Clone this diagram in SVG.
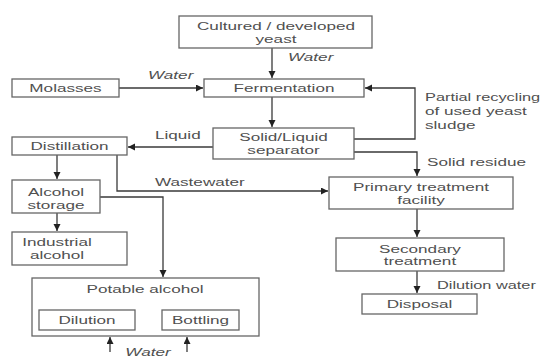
<svg xmlns="http://www.w3.org/2000/svg" width="542" height="358" viewBox="0 0 542 358">
<defs>
<marker id="ah" markerUnits="userSpaceOnUse" markerWidth="8" markerHeight="8" refX="7" refY="3.5" orient="auto">
<path d="M0,0 L7,3.5 L0,7 z" fill="#222"/>
</marker>
<style>
.box{fill:#fff;stroke:#666;stroke-width:1.3}
.t{font-family:"Liberation Sans",Arial,sans-serif;font-size:11.5px;fill:#505050}
.m{text-anchor:middle}
.i{font-style:italic}
.c{fill:none;stroke:#3a3a3a;stroke-width:1.3}
</style>
</defs>
<rect width="542" height="358" fill="#fff"/>
<g id="connectors">
<path class="c" d="M272,48 V78" marker-end="url(#ah)"/>
<path class="c" d="M119,88 H203" marker-end="url(#ah)"/>
<path class="c" d="M272,97 V127" marker-end="url(#ah)"/>
<path class="c" d="M354,139 H415 V88 H365" marker-end="url(#ah)"/>
<path class="c" d="M354,152 H417 V176" marker-end="url(#ah)"/>
<path class="c" d="M213,147 H128" marker-end="url(#ah)"/>
<path class="c" d="M57,155 V179" marker-end="url(#ah)"/>
<path class="c" d="M117,155 V191 H328" marker-end="url(#ah)"/>
<path class="c" d="M57,213 V231" marker-end="url(#ah)"/>
<path class="c" d="M100,197 H163 V277" marker-end="url(#ah)"/>
<path class="c" d="M110,352 V337" marker-end="url(#ah)"/>
<path class="c" d="M187,352 V337" marker-end="url(#ah)"/>
<path class="c" d="M417,209 V237" marker-end="url(#ah)"/>
<path class="c" d="M417,271 V293" marker-end="url(#ah)"/>
<text class="t i" transform="translate(288,61) scale(1.49,1)">Water</text>
<text class="t i" transform="translate(148,79) scale(1.49,1)">Water</text>
<text class="t" transform="translate(155,139) scale(1.49,1)">Liquid</text>
<text class="t" transform="translate(425,101) scale(1.42,1)">Partial recycling</text>
<text class="t" transform="translate(425,115) scale(1.49,1)">of used yeast</text>
<text class="t" transform="translate(425,129) scale(1.49,1)">sludge</text>
<text class="t" transform="translate(427,166) scale(1.49,1)">Solid residue</text>
<text class="t" transform="translate(155,186) scale(1.49,1)">Wastewater</text>
<text class="t" transform="translate(437,289) scale(1.42,1)">Dilution water</text>
<text class="t i m" transform="translate(148,356) scale(1.49,1)">Water</text>
</g>
<g id="yeast">
<rect class="box" x="179" y="16" width="193" height="32"/>
<text class="t m" transform="translate(276,30) scale(1.49,1)">Cultured / developed</text>
<text class="t m" transform="translate(276,43) scale(1.49,1)">yeast</text>
</g>
<g id="molasses">
<rect class="box" x="12" y="79" width="107" height="18"/>
<text class="t m" transform="translate(65.5,92) scale(1.49,1)">Molasses</text>
</g>
<g id="fermentation">
<rect class="box" x="204" y="79" width="160" height="18"/>
<text class="t m" transform="translate(284,92) scale(1.49,1)">Fermentation</text>
</g>
<g id="separator">
<rect class="box" x="213" y="128" width="141" height="31"/>
<text class="t m" transform="translate(283.5,141) scale(1.49,1)">Solid/Liquid</text>
<text class="t m" transform="translate(283.5,154) scale(1.49,1)">separator</text>
</g>
<g id="distillation">
<rect class="box" x="12" y="137" width="115" height="18"/>
<text class="t m" transform="translate(69.5,150) scale(1.49,1)">Distillation</text>
</g>
<g id="storage">
<rect class="box" x="12" y="180" width="88" height="33"/>
<text class="t m" transform="translate(56,196) scale(1.49,1)">Alcohol</text>
<text class="t m" transform="translate(56,209) scale(1.49,1)">storage</text>
</g>
<g id="industrial">
<rect class="box" x="12" y="232" width="115" height="33"/>
<text class="t m" transform="translate(57,246) scale(1.49,1)">Industrial</text>
<text class="t m" transform="translate(57,259) scale(1.49,1)">alcohol</text>
</g>
<g id="potable">
<rect class="box" x="32" y="278" width="227" height="58"/>
<text class="t m" transform="translate(145,293) scale(1.49,1)">Potable alcohol</text>
</g>
<g id="dilution">
<rect class="box" x="39" y="310" width="96" height="20"/>
<text class="t m" transform="translate(87,324) scale(1.49,1)">Dilution</text>
</g>
<g id="bottling">
<rect class="box" x="162" y="310" width="77" height="20"/>
<text class="t m" transform="translate(200.5,324) scale(1.49,1)">Bottling</text>
</g>
<g id="primary">
<rect class="box" x="329" y="177" width="184" height="32"/>
<text class="t m" transform="translate(421,191) scale(1.49,1)">Primary treatment</text>
<text class="t m" transform="translate(421,204) scale(1.49,1)">facility</text>
</g>
<g id="secondary">
<rect class="box" x="336" y="238" width="168" height="33"/>
<text class="t m" transform="translate(420,253) scale(1.49,1)">Secondary</text>
<text class="t m" transform="translate(420,265) scale(1.49,1)">treatment</text>
</g>
<g id="disposal">
<rect class="box" x="362" y="294" width="115" height="20"/>
<text class="t m" transform="translate(419.5,308) scale(1.49,1)">Disposal</text>
</g>
</svg>
